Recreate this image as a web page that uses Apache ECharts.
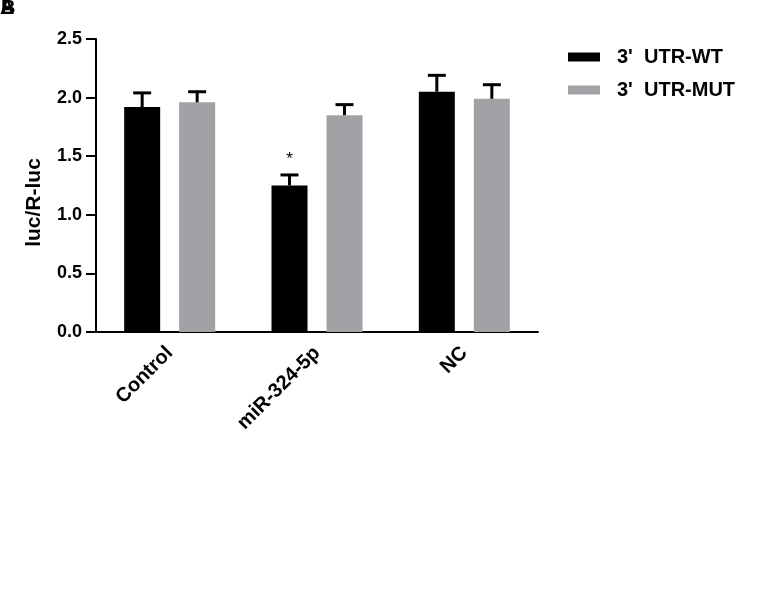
<!DOCTYPE html>
<html>
<head>
<meta charset="utf-8">
<script src="https://cdn.jsdelivr.net/npm/echarts@6/dist/echarts.min.js"></script>
<style>html,body{margin:0;padding:0;background:#fff}#c{width:760px;height:594px}</style>
</head>
<body>
<div id="c"></div>
<script>
var categories = ['Control', 'miR-324-5p', 'NC'];
var seriesNames = ["3'  UTR-WT", "3'  UTR-MUT"];
var wtMean = [1.92, 1.25, 2.05];
var wtErr = [0.12, 0.09, 0.14];
var mutMean = [1.96, 1.85, 1.99];
var mutErr = [0.09, 0.09, 0.12];
var wtSig = ['', '*', ''];
var mutSig = ['', '', ''];
var yTicks = [0, 0.5, 1.0, 1.5, 2.0, 2.5];

var FONT = 'Arial, "Liberation Sans", sans-serif';
var BAR_W = 36, BAR_GAP = 19;
var OFF = (BAR_W + BAR_GAP) / 2;

function errRender(offset, sig) {
  return function (params, api) {
    var i = api.value(0), v = api.value(1), e = api.value(2);
    var p0 = api.coord([i, v]);
    var p1 = api.coord([i, v + e]);
    var x = p0[0] + offset, hw = 9;
    var ch = [
      {type: 'line', shape: {x1: x, y1: p0[1], x2: x, y2: p1[1]}, style: {stroke: '#000', lineWidth: 3}},
      {type: 'line', shape: {x1: x - hw, y1: p1[1], x2: x + hw, y2: p1[1]}, style: {stroke: '#000', lineWidth: 3}}
    ];
    if (sig[i]) {
      ch.push({type: 'text', style: {text: sig[i], x: x, y: p1[1] - 7, textAlign: 'center', textVerticalAlign: 'bottom', font: '17px ' + FONT, fill: '#000'}});
    }
    return {type: 'group', children: ch};
  };
}

var chart = echarts.init(document.getElementById('c'), null, {renderer: 'canvas'});
chart.setOption({
  animation: false,
  backgroundColor: '#fff',
  graphic: [
    {type: 'text', left: 0, top: -2, style: {text: 'A', font: 'bold 20px ' + FONT, fill: '#000'}},
    {type: 'text', left: 1, top: -2, style: {text: 'B', font: 'bold 20px ' + FONT, fill: '#000'}}
  ],
  legend: {
    data: seriesNames,
    orient: 'vertical',
    left: 563,
    top: 41,
    icon: 'rect',
    itemWidth: 32,
    itemHeight: 9,
    itemGap: 11,
    textStyle: {fontFamily: FONT, fontWeight: 'bold', fontSize: 20, color: '#000', lineHeight: 22, padding: [0, 0, 0, 12]}
  },
  grid: {left: 96, right: 222, top: 39, bottom: 262, containLabel: false},
  xAxis: {
    type: 'category',
    data: categories,
    axisLine: {lineStyle: {color: '#000', width: 2}},
    axisTick: {alignWithLabel: true, length: 8, lineStyle: {color: '#000', width: 2}},
    axisLabel: {rotate: 45, margin: 18, fontFamily: FONT, fontWeight: 'bold', fontSize: 20, color: '#000'}
  },
  yAxis: {
    type: 'value',
    min: 0, max: 2.5, interval: 0.5,
    name: 'luc/R-luc',
    nameLocation: 'middle',
    nameGap: 51,
    nameTextStyle: {fontFamily: FONT, fontWeight: 'bold', fontSize: 21, color: '#000', padding: [0, 34, 0, 0]},
    axisLine: {show: true, lineStyle: {color: '#000', width: 2}},
    axisTick: {show: true, length: 10, lineStyle: {color: '#000', width: 2}},
    splitLine: {show: false},
    axisLabel: {margin: 14, fontFamily: FONT, fontWeight: 'bold', fontSize: 18, color: '#000',
      formatter: function (v) { return v.toFixed(1); }}
  },
  series: [
    {name: seriesNames[0], type: 'bar', data: wtMean, barWidth: BAR_W, barGap: (BAR_GAP / BAR_W * 100) + '%', itemStyle: {color: '#000'}},
    {name: seriesNames[1], type: 'bar', data: mutMean, barWidth: BAR_W, itemStyle: {color: '#a2a2a6'}},
    {type: 'custom', z: 5, renderItem: errRender(-OFF, wtSig), encode: {x: 0, y: 1},
      data: categories.map(function (c, i) { return [i, wtMean[i], wtErr[i]]; })},
    {type: 'custom', z: 5, renderItem: errRender(OFF, mutSig), encode: {x: 0, y: 1},
      data: categories.map(function (c, i) { return [i, mutMean[i], mutErr[i]]; })}
  ]
});
</script>
</body>
</html>
